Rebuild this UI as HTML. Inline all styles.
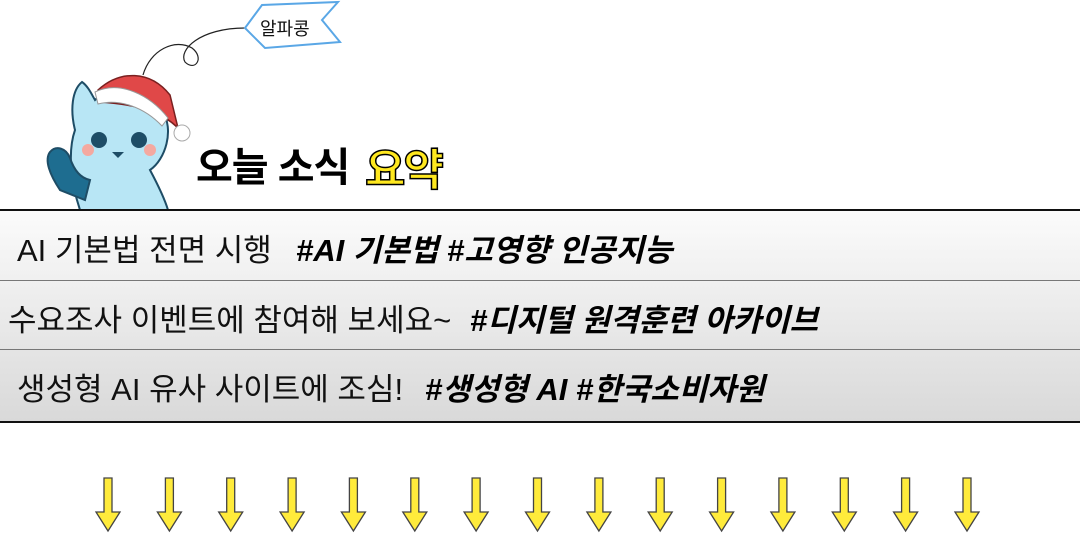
<!DOCTYPE html>
<html><head><meta charset="utf-8"><style>
body{margin:0;width:1080px;height:538px;background:#fff;position:relative;overflow:hidden;font-family:"Liberation Sans","Noto Sans CJK KR",sans-serif;}
.abs{position:absolute;white-space:nowrap;}
.table{position:absolute;left:0;top:209px;width:1080px;height:210px;border-top:2px solid #111;border-bottom:2px solid #111;background:linear-gradient(#fbfbfb,#d9d9d9);}
.row{position:absolute;left:0;width:1080px;height:69px;}
.sep{position:absolute;left:0;width:1080px;height:1px;background:#777;}
.t{position:absolute;font-size:31px;color:#111;letter-spacing:0px;top:14px;}
.h{position:absolute;font-size:31px;font-weight:bold;font-style:italic;color:#000;letter-spacing:0px;top:14px;}
</style></head><body>
<svg class="abs" style="left:0;top:0" width="460" height="212">
<path d="M143 75 C150 50 175 38 192 48 C205 58 195 72 185 62 C178 50 200 28 245 28" fill="none" stroke="#222" stroke-width="1.2"/>
<path d="M245 28 L262 5 L338 2 L322 20 L340 42 L265 48 Z" fill="#fff" stroke="#5aa7e6" stroke-width="2"/>
<text x="260" y="35" font-size="18" font-family="Liberation Sans, Noto Sans CJK KR, sans-serif" fill="#111">알파콩</text>
<path d="M80 210 C70 180 68 150 75 130 C70 110 72 90 82 82 C88 86 92 95 95 100 C110 85 150 85 162 110 C175 130 165 160 150 170 C158 185 165 200 168 210 Z" fill="#b8e6f5" stroke="#1e4d66" stroke-width="2"/>
<path d="M60 190 C50 175 44 160 50 152 C56 145 66 148 70 158 C74 170 80 178 90 180 L85 200 Z" fill="#1e6d90" stroke="#1e4d66" stroke-width="2"/>
<path d="M98 90 C120 70 150 70 170 95 L178 128 C165 115 145 105 100 102 Z" fill="#e04848" stroke="#7a2020" stroke-width="1.5"/>
<path d="M95 92 C120 80 150 95 168 118 L162 126 C145 108 120 98 98 104 Z" fill="#fff" stroke="#999" stroke-width="1"/>
<circle cx="182" cy="133" r="8" fill="#fff" stroke="#aaa"/>
<circle cx="99" cy="140" r="8" fill="#1e4d66"/><circle cx="139" cy="140" r="8" fill="#1e4d66"/>
<circle cx="88" cy="150" r="6" fill="#f4a9a0"/><circle cx="150" cy="150" r="6" fill="#f4a9a0"/>
<path d="M112 152 L124 152 L118 158 Z" fill="#1e4d66"/>
</svg>
<div class="abs" style="left:196px;top:135px;font-size:40px;font-weight:bold;letter-spacing:-1px;color:#000;">오늘 소식</div>
<div class="abs" style="left:365px;top:134px;font-size:44px;font-weight:bold;letter-spacing:-2px;color:#ffe81f;-webkit-text-stroke:1.5px #000;">요약</div>
<div class="table">
 <div class="row" style="top:0"><span class="t" style="left:17px">AI 기본법 전면 시행</span><span class="h" style="left:296px">#AI 기본법 #고영향 인공지능</span></div>
 <div class="sep" style="top:69px"></div>
 <div class="row" style="top:70px"><span class="t" style="left:8px">수요조사 이벤트에 참여해 보세요~</span><span class="h" style="left:470px">#디지털 원격훈련 아카이브</span></div>
 <div class="sep" style="top:138px"></div>
 <div class="row" style="top:139px"><span class="t" style="left:17px">생성형 AI 유사 사이트에 조심!</span><span class="h" style="left:425px">#생성형 AI #한국소비자원</span></div>
</div>
<svg class="abs" style="left:0;top:470px" width="1080" height="68">
<defs><path id="a" d="M-4 8 L4 8 L4 42 L12 42 L0 61 L-12 42 L-4 42 Z" fill="#ffeb3b" stroke="#444" stroke-width="1.3"/></defs>
<use href="#a" x="108"/><use href="#a" x="169.4"/><use href="#a" x="230.7"/><use href="#a" x="292.1"/><use href="#a" x="353.4"/><use href="#a" x="414.8"/><use href="#a" x="476.1"/><use href="#a" x="537.5"/><use href="#a" x="598.9"/><use href="#a" x="660.2"/><use href="#a" x="721.6"/><use href="#a" x="782.9"/><use href="#a" x="844.3"/><use href="#a" x="905.6"/><use href="#a" x="967"/>
</svg>
</body></html>
